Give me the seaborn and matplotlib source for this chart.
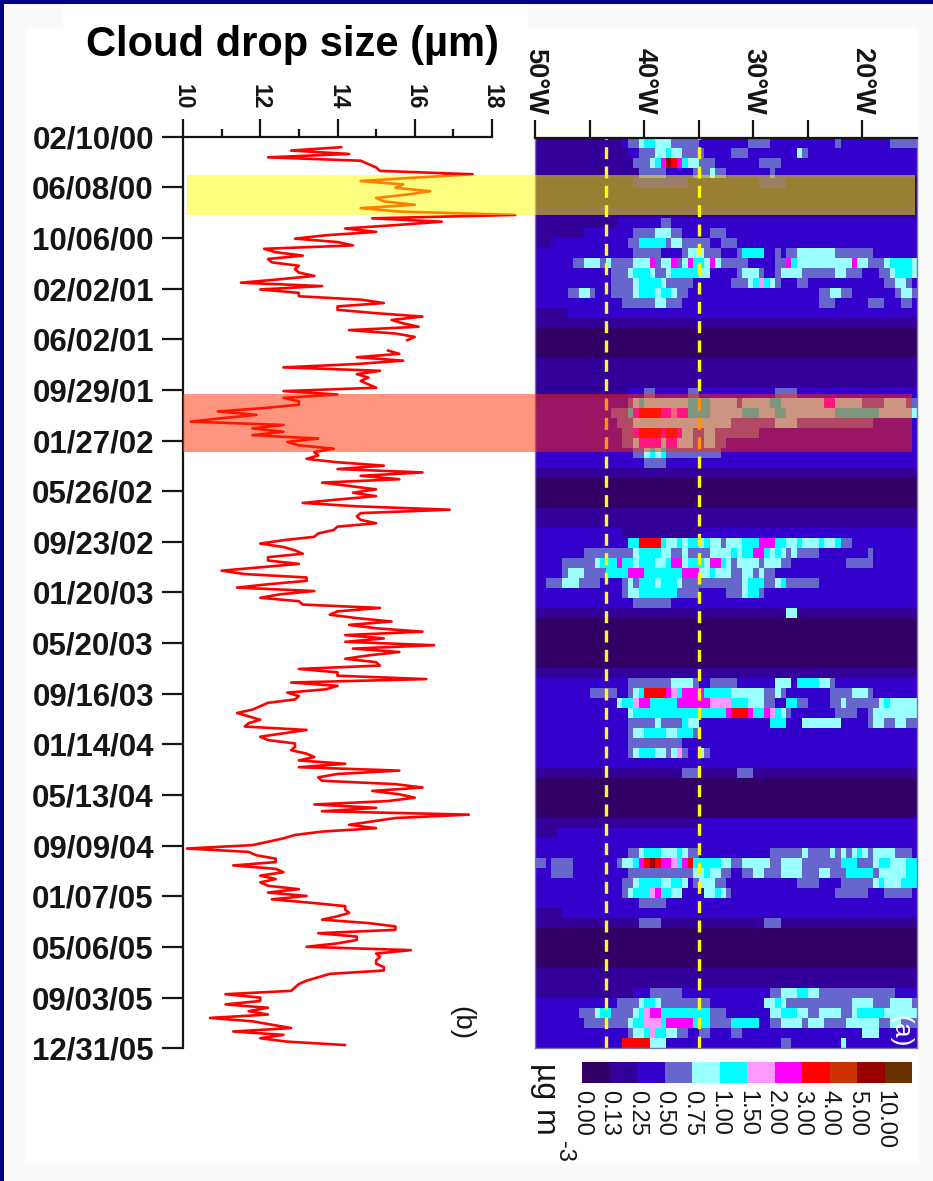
import numpy as np
import pandas as pd
import seaborn as sns
import matplotlib.pyplot as plt
from matplotlib.colors import ListedColormap, BoundaryNorm
from matplotlib.patches import Rectangle

W, H = 933, 1181

date_labels = ['02/10/00', '06/08/00', '10/06/00', '02/02/01', '06/02/01', '09/29/01', '01/27/02',
               '05/26/02', '09/23/02', '01/20/03', '05/20/03', '09/16/03', '01/14/04', '05/13/04',
               '09/09/04', '01/07/05', '05/06/05', '09/03/05', '12/31/05']

size_ticks = [10, 12, 14, 16, 18]
size_minor = [11, 13, 15, 17]

# cloud drop size, one value per 8 day composite, starting 24 days after the first date
drop_um = [
    14.1, 12.8, 14.3, 12.2, 14.6, 14.8, 15.0, 15.1, 17.5, 16.0, 14.6, 15.7, 15.5, 16.4, 15.8, 15.0, 15.2, 16.0,
    14.6, 15.6, 18.6, 14.9, 16.7, 15.5, 14.2, 15.0, 13.7, 12.9, 14.0, 14.4, 12.1, 12.4, 13.1, 12.2, 12.3, 13.0,
    12.9, 13.0, 13.4, 12.5, 11.5, 13.6, 12.0, 13.0, 13.0, 14.6, 15.2, 14.0, 14.0, 15.0, 16.2, 15.4, 15.7, 16.1,
    14.3, 15.5, 16.0, 15.8, np.nan, np.nan, 15.3, 15.6, 14.5, 15.7, 14.5, 12.6, 15.1, 14.5, 14.8, 14.6, 14.8,
    15.0, 12.6, 14.0, 12.6, 13.0, 13.0, 12.1, 10.9, 11.9, 11.0, 10.2, 12.6, 11.8, 12.6, 11.8, 13.5, 12.7, 13.0,
    13.9, 13.4, 13.5, 13.2, 14.0, 15.2, 14.0, 16.2, 14.6, 15.6, 13.6, 14.3, 15.0, 14.4, 15.0, 14.0, 13.1, 14.5,
    16.9, 14.6, 14.5, 14.6, 15.0, 14.0, 13.9, 13.5, 13.4, 12.6, 12.0, 12.6, 12.9, 13.1, 12.2, 12.2, 13.0, 12.0,
    11.0, 11.6, 13.2, 13.2, 12.2, 11.4, 13.4, 12.5, 12.0, 13.0, 13.1, 15.1, 14.0, 13.8, 14.5, 15.4, 14.3, 15.0,
    16.2, 14.2, 15.2, 14.2, 16.5, 14.4, 15.6, 14.8, 14.2, 15.0, 15.1, 13.0, 14.0, 14.0, 16.3, 12.8, 14.0, 13.7,
    12.7, 13.0, 12.9, 12.2, 12.0, 11.8, 11.4, 11.7, 12.0, 11.7, 11.6, 13.2, 12.6, 12.0, 12.2, 12.9, 12.9, 12.8,
    13.2, 13.4, 13.0, 14.2, 13.0, 15.6, 14.0, 13.5, 13.6, 15.5, 16.2, 14.9, 15.6, 16.0, 15.3, 13.4, 15.0, 13.6,
    17.4, 15.5, 14.9, 14.3, 15.0, 13.6, 12.9, 12.6, 12.2, 11.8, 10.1, 11.7, 11.9, 12.4, 12.4, 11.3, 12.4, 12.6,
    12.0, 12.4, 12.0, 12.2, 13.0, 12.2, 13.2, 12.3, 13.3, 14.2, 14.2, 14.3, 14.0, 13.6, 14.8, 15.5, 15.5, 13.5,
    14.5, 14.5, 14.0, 13.2, 15.9, 15.0, 15.1, 15.0, 15.0, 15.2, 15.2, 13.8, 13.5, 13.2, 13.0, 12.9, 12.8, 11.1,
    12.0, 12.0, 11.1, 12.2, 11.7, 12.2, 10.7, 11.8, 12.3, 12.8, 11.3, 12.6, 12.0, 12.7, 14.2,
]
drop_first_day = 24
drop_step_days = 8

# colour bar classes (ug m-3) and colours
heat_labels = ['0.00', '0.13', '0.25', '0.50', '0.75', '1.00', '1.50', '2.00', '3.00', '4.00', '5.00', '10.00']
heat_bounds = [float(v) for v in heat_labels] + [20.0]
heat_colors = ['#330066', '#330099', '#3300CC', '#6666CC', '#99FFFF', '#00FFFF',
               '#FF99FF', '#FF00FF', '#FF0000', '#CC3300', '#990000', '#663300']

# concentration class per cell, rows run in time, groups of ten cells are 5 deg of longitude
heat_rows = [
    '1111111111 1111112334 5544433333 2222222223 3332222222 2222232222 2222233333',
    '1111111111 1111111223 3344544333 3222223332 2222222243 2222222222',
    '1111111111 1111111133 3457a87544 3332222222 2333322222 2',
    '1111111111 1111111113 3333222223 3343322222 2223222222 2',
    '0000000000 0000000022 2222222200 0000000000 0222220000 0',
    '0',
    '0',
    '1',
    '1111111111 1111122222 2223322222 2',
    '1111111112 2222222233 3344433222 2233322222 2',
    '1112222222 2222222335 5555344333 3322333222 2',
    '2222222222 2222222233 3332222344 4333222355 5522323344 4444433333 3322222222',
    '2222222334 4434333344 4734473475 5474333332 2222337544 4444444474 4333455554',
    '2222222222 2222333455 5433455555 4422222344 4322344443 3333344333 2223345554',
    '2222222222 2222333345 5554333332 2222223334 5654322233 2222222222 2222334432',
    '2222223344 3222333345 5545543322 2222222222 2222222222 2233443322 2222223443',
    '2222222222 2222223333 3344333222 2222222222 2222222222 2233322222 2333222332',
    '1111112222 2',
    '1', '0', '0', '0', '1', '1', '1',
    '1111111111 1111111222 3322222233 2222222222 2222333322 2',
    '1222222222 2222222345 4444444455 5544444344 4445544444 4447744444 3333444433',
    '2222222222 2222333578 8887767755 5544444455 5444554444 4444455555 5554444444',
    '2222222222 2222233344 4444444444 4444443333 3333444433 3333333333 3322222222',
    '2222222222 2222223378 8887887443 3443333333 3222222222 2',
    '2222222222 2222223347 7774774443 3443322222 2',
    '2222222222 2222222233 4545333333 3333222222 2',
    '2222222222 2222222222 3333222222 2',
    '1', '0', '0', '0', '1', '1',
    '2222222222 2222221111 1111111111 2',
    '2222222222 2222222558 8885445455 4544344455 5777554454 4454453322 2',
    '2222222223 3333333345 5554433433 3344445455 7754543433 3322222222 2322222222',
    '2222233333 3455575545 5544577455 5477543444 4344433222 2222222333 3322222222',
    '2222234443 3335555777 5555555777 4454443344 3433222222 2',
    '2233344433 3322223435 5545554333 3333333345 5533453333 3322222222 2',
    '2222222222 2222223445 5555553333 2222233345 5322222222 2',
    '2222222222 2222222233 3333322222 2',
    '1111111111 1111111111 1111111111 1111111111 1111114411 1',
    '0', '0', '0', '0', '0',
    '1',
    '2222222222 2222222333 3333344443 2233333222 2222444255 5544322222 2',
    '2222222222 3333322345 8888765777 7555554444 4433432222 2222333344 4322222222',
    '2222222222 2222245567 7555557777 7766665554 4433225533 2222334333 3334544444',
    '2222222222 2222222455 5555555555 5555578887 5576543222 2222233332 2344444444',
    '2222222222 2222222333 3343333544 2222222222 2225552224 4444442222 2344334433',
    '2222222222 2222222344 5555445553 2',
    '2222222222 2222222333 3333333222 2',
    '2222222222 2222222345 5544346322 4322222222 2',
    '2',
    '1111111111 1111111111 1111111333 1111111333 1',
    '0', '0', '0', '0',
    '1111111111 1111111111 1111111111 2',
    '1111222222 2',
    '2',
    '2222222222 2222222334 5554445433 2222222222 2223333334 3333434345 4344443332',
    '3323333222 2222234457 8a87765785 5555443344 4443344443 3333335553 3345544455',
    '2223333222 2222222333 3333333334 4544332233 4433344443 3344333555 5534444455',
    '2222222222 2222223345 5554455423 4443322222 2222222233 3322223333 3345444555',
    '2222222222 2222223455 5675544222 2445432222 2222222222 2222233333 3222333332',
    '2222222222 2222222223 3333222222 2',
    '1111122222 2',
    '1111111111 1111111113 3331111111 1111111111 1133311111 1',
    '0', '0', '0', '0',
    '1', '1',
    '1111111111 1111111122 2333333222 2222222222 2223344455 4433333333 3333332222',
    '2222222222 2222233334 5543333333 3322222222 2244543333 3333333344 4433344443',
    '2222222233 3455333345 6775555555 5533322222 2224455544 3344443345 5555444444',
    '2222222223 3333333455 6665777775 5533335555 5223344443 4443333444 4443344333',
    '2222222222 2222222344 5655443322 3322223322 2222222222 2222222222 4442222222',
    '2222222222 2222228888 8444222222 2222222222 2222233222 2222224222 2',
]

lon_ticks = [50, 45, 40, 35, 30, 25, 20]
lon_labels = ['50°W', '', '40°W', '', '30°W', '', '20°W']
lon_west, lon_east = 50, 15
box_lons = [43.5, 35]

NCOL = 70
grid = np.array([[heat_bounds[int(c, 16)] for c in r.replace(' ', '').ljust(NCOL, r[-1])]
                 for r in heat_rows])


def box(x0, y0, x1, y1):
    # axes rectangle from pixel edges, y from top of picture
    return [x0 / W, 1 - y1 / H, (x1 - x0) / W, (y1 - y0) / H]


def lon_col(lon):
    return (lon_west - lon) / (lon_west - lon_east) * NCOL


sns.set_theme(style='white')
plt.rcParams['font.family'] = ['Liberation Sans', 'DejaVu Sans']
INK = '#151515'

fig = plt.figure(figsize=(W / 100, H / 100), dpi=100, facecolor='#FAFAFA')

# page background
for x0, y0, x1, y1, col in [(0, 0, W, 4, '#000080'), (0, 0, 4, H, '#000080'),
                            (63, 7, 528, 28, 'white'), (26, 28, 918, 1163, 'white')]:
    fig.add_artist(Rectangle((x0 / W, 1 - y1 / H), (x1 - x0) / W, (y1 - y0) / H, transform=fig.transFigure,
                             color=col, lw=0, zorder=-5))

# panel b, drop size
ax = fig.add_axes(box(183, 137, 492, 1048), facecolor='none', zorder=2)
df = pd.DataFrame({'um': drop_um})
df['day'] = drop_first_day + drop_step_days * df.index
df['piece'] = df['um'].isna().cumsum()
df = df.dropna()
sns.lineplot(data=df, x='um', y='day', units='piece', estimator=None, sort=False, orient='y',
             color='#FF0000', lw=1.9, ax=ax, clip_on=False)
dates = pd.to_datetime(date_labels, format='%m/%d/%y')
tick_days = (dates - dates[0]).days
ax.set_xlim(10, 18)
ax.set_ylim(tick_days[-1], 0)
ax.set_yticks(tick_days)
ax.set_yticklabels(date_labels, fontsize=22.5, fontweight='bold', color=INK)
ax.xaxis.tick_top()
ax.set_xticks(size_ticks)
ax.set_xticks(size_minor, minor=True)
ax.set_xticklabels([str(v) for v in size_ticks], rotation=-90, ha='center', va='bottom', fontsize=16.5,
                   fontweight='bold', color=INK)
ax.tick_params(axis='y', which='major', left=True, direction='out', length=15, width=1.6, pad=6, color=INK)
ax.tick_params(axis='x', which='major', top=True, direction='out', length=13, width=1.6, pad=7, color=INK)
ax.tick_params(axis='x', which='minor', top=True, direction='out', length=6, width=1.6, color=INK)
ax.set_xlabel('')
ax.set_ylabel('')
for side in ['right', 'bottom']:
    ax.spines[side].set_visible(False)
for side in ['left', 'top']:
    ax.spines[side].set_color(INK)
    ax.spines[side].set_linewidth(1.6)

# panel a, concentration map
cmap = ListedColormap(heat_colors)
norm = BoundaryNorm(heat_bounds, len(heat_colors))
hax = fig.add_axes(box(535, 138, 917, 1048))
sns.heatmap(grid, cmap=cmap, norm=norm, cbar=False, xticklabels=False, yticklabels=False, ax=hax)
hax.set_xticks([lon_col(v) for v in lon_ticks])
hax.set_xticklabels(lon_labels, rotation=-90, ha='center', va='bottom', fontsize=19.5, fontweight='bold', color=INK)
hax.tick_params(axis='x', top=True, bottom=False, labeltop=True, labelbottom=False, direction='out',
                length=13, width=1.6, pad=4, color=INK)
for v in box_lons:
    hax.axvline(lon_col(v), color='#FFFF00', lw=2.4, dashes=(3.6, 2.2))
for side, spine in hax.spines.items():
    spine.set_visible(True)
    spine.set_color(INK if side == 'top' else '#7A7AA0')
    spine.set_linewidth(1.6 if side == 'top' else 1.0)
hax.text(0.956, 0.0187, '(a)', transform=hax.transAxes, rotation=-90, color='white', fontsize=19,
         ha='center', va='center')
ax.text(0.9, 0.0275, '(b)', transform=ax.transAxes, rotation=-90, color=INK, fontsize=20, ha='center', va='center',
        clip_on=False)

# colour bar
cax = fig.add_axes(box(582, 1062, 912, 1083))
sns.heatmap([heat_bounds[:-1]], cmap=cmap, norm=norm, cbar=False, xticklabels=False, yticklabels=False, ax=cax)
cax.set_xticks(np.arange(len(heat_labels)))
cax.set_xticklabels(heat_labels, rotation=-90, ha='center', va='top', fontsize=17, color=INK)
cax.tick_params(axis='x', bottom=True, length=0, pad=5)

fig.text(545 / W, 1 - 1063 / H, 'µg m', rotation=-90, ha='center', va='top', fontsize=23, color=INK)
fig.text(564 / W, 1 - 1141 / H, '-3', rotation=-90, ha='center', va='top', fontsize=17, color=INK)

# highlight bands sit across both panels
for x0, y0, x1, y1, col in [(187, 175, 915, 215, '#FFFF00'), (183, 394, 912, 452, '#FF2D00')]:
    fig.add_artist(Rectangle((x0 / W, 1 - y1 / H), (x1 - x0) / W, (y1 - y0) / H, transform=fig.transFigure,
                             facecolor=col, edgecolor='none', alpha=0.5, zorder=5))

fig.text(293 / W, 1 - 45 / H, 'Cloud drop size (µm)', ha='center', va='center', fontsize=30,
         fontweight='bold', color='black')

fig.savefig('out.png', dpi=100, facecolor=fig.get_facecolor())
